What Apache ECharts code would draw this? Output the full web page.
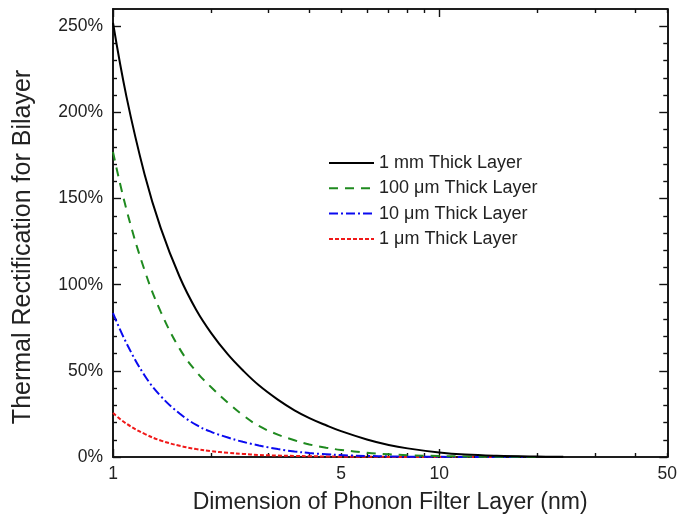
<!DOCTYPE html>
<html>
<head>
<meta charset="utf-8">
<script src="https://cdn.jsdelivr.net/npm/echarts@6/dist/echarts.min.js"></script>
<style>html,body{margin:0;padding:0;background:#fff}#c{width:680px;height:521px}</style>
</head>
<body>
<div id="c"></div>
<script>
// Dimension of phonon filter layer (nm)
const dims = [1, 1.1, 1.25, 1.4, 1.6, 1.8, 2, 2.25, 2.5, 2.8, 3.2, 3.6, 4, 4.5, 5, 6, 7, 8, 10, 12, 15, 20, 24];
// Thermal rectification (%)
const mm1   = [252, 209, 164, 133, 104.6, 85.3, 71.9, 59.5, 50.3, 41.6, 33.3, 27.1, 22.6, 18.4, 15, 10.2, 7, 5, 2.6, 1.4, 0.7, 0.25, 0.1];
const um100 = [177, 143.5, 108.3, 84.4, 62.9, 49.5, 40.5, 31.5, 24.3, 18, 13, 9.7, 7.3, 5.4, 4.1, 2.5, 1.6, 1.06, 0.56, 0.3, 0.13, 0.05, null];
const um10  = [83.5, 66, 47.3, 35.4, 25.2, 18.6, 14.6, 11.3, 8.8, 6.7, 4.6, 3.2, 2.3, 1.6, 1.1, 0.6, 0.35, 0.2, 0.08, 0.04, 0.02, 0.01, null];
const um1   = [25.5, 19.3, 13.4, 9.6, 6.5, 4.6, 3.4, 2.4, 1.8, 1.2, 0.85, 0.6, 0.45, 0.3, 0.2, 0.12, 0.07, 0.05, 0.02, 0.01, 0.01, null, null];
const seriesNames = ['1 mm Thick Layer', '100 μm Thick Layer', '10 μm Thick Layer', '1 μm Thick Layer'];

const xMajor = [1, 10];
const xMinor = [2, 3, 4, 5, 6, 7, 8, 9, 20, 30, 40, 50];
const xLabels = [1, 5, 10, 50];
const yMajor = [0, 50, 100, 150, 200, 250];
const yMinor = [10, 20, 30, 40, 60, 70, 80, 90, 110, 120, 130, 140, 160, 170, 180, 190, 210, 220, 230, 240];

const L = Math.log10;
const FONT = 'Liberation Sans, Arial, sans-serif';
const TXT = '#222';
const xMax = L(50);

function pairs(vals) { return dims.map((d, i) => [L(d), vals[i]]); }

function xAx(pos, ticks, len, withLabels) {
  return {
    type: 'value', position: pos, min: 0, max: xMax,
    axisLine: { show: true, onZero: false, lineStyle: { color: '#111', width: 1.6 } },
    axisTick: { show: true, inside: true, length: len, customValues: ticks.map(L), lineStyle: { color: '#111', width: 1.4 } },
    axisLabel: withLabels ? {
      show: true, customValues: xLabels.map(L), margin: 8,
      formatter: v => String(Math.round(Math.pow(10, v))),
      fontFamily: FONT, fontSize: 17.5, color: TXT
    } : { show: false },
    splitLine: { show: false }
  };
}
function yAx(pos, ticks, len, withLabels) {
  return {
    type: 'value', position: pos, min: 0, max: 260,
    axisLine: { show: true, onZero: false, lineStyle: { color: '#111', width: 1.6 } },
    axisTick: { show: true, inside: true, length: len, customValues: ticks, lineStyle: { color: '#111', width: 1.4 } },
    axisLabel: withLabels ? {
      show: true, customValues: yMajor, margin: 10,
      formatter: v => v + '%', fontFamily: FONT, fontSize: 17.5, color: TXT
    } : { show: false },
    splitLine: { show: false }
  };
}

const xAxes = [xAx('bottom', xMajor, 8, true), xAx('bottom', xMinor, 4, false), xAx('top', xMajor, 8, false), xAx('top', xMinor, 4, false)];
xAxes[0].name = 'Dimension of Phonon Filter Layer (nm)';
xAxes[0].nameLocation = 'middle';
xAxes[0].nameGap = 34;
xAxes[0].nameTextStyle = { fontFamily: FONT, fontSize: 23, color: TXT };

const colors = ['#000000', '#1f8a1f', '#0a0af0', '#f01818'];
const dashes = ['solid', [9, 7], [9, 3, 2, 3], [4, 2]];
const vals = [mm1, um100, um10, um1];

const chart = echarts.init(document.getElementById('c'), null, { renderer: 'canvas' });
chart.setOption({
  animation: false,
  backgroundColor: '#fff',
  grid: { left: 113, top: 9, right: 11, bottom: 64, containLabel: false },
  xAxis: xAxes,
  yAxis: [yAx('left', yMajor, 8, true), yAx('left', yMinor, 4, false), yAx('right', yMajor, 8, false), yAx('right', yMinor, 4, false)],
  legend: {
    left: 328, top: 154, orient: 'vertical', padding: 0,
    itemWidth: 45, itemHeight: 14, itemGap: 7.3,
    data: seriesNames,
    itemStyle: { opacity: 0 },
    textStyle: { fontFamily: FONT, fontSize: 18, lineHeight: 18, color: TXT }
  },
  graphic: [{
    type: 'text', x: 23, y: 247, rotation: Math.PI / 2,
    style: { text: 'Thermal Rectification for Bilayer', fontFamily: FONT, fontSize: 25, fill: TXT, align: 'center', verticalAlign: 'middle' }
  }],
  series: vals.map((v, i) => ({
    type: 'line', name: seriesNames[i], data: pairs(v),
    xAxisIndex: 0, yAxisIndex: 0,
    showSymbol: false, symbol: 'none', smooth: 0.4,
    lineStyle: { color: colors[i], width: 2, type: dashes[i] },
    itemStyle: { color: colors[i] },
    z: 10 - i
  }))
});
</script>
</body>
</html>
